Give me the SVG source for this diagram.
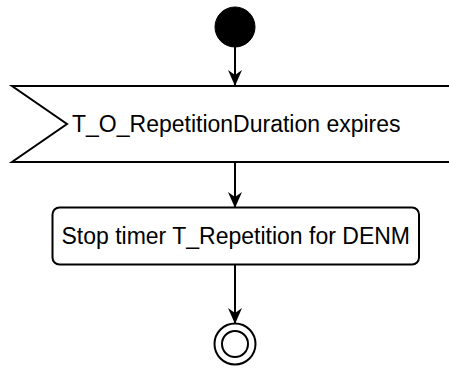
<svg xmlns="http://www.w3.org/2000/svg" width="449" height="368" viewBox="0 0 449 368">
  <defs>
    <marker id="arrow" viewBox="0 0 16 14" refX="15" refY="7" markerWidth="16" markerHeight="14" markerUnits="userSpaceOnUse" orient="auto">
      <path d="M0,0 L16,7 L0,14 L5,7 z" fill="#000"/>
    </marker>
  </defs>
  <style>
    .shape { fill: #fff; stroke: #000; stroke-width: 2; }
    .edge { fill: none; stroke: #000; stroke-width: 2; marker-end: url(#arrow); }
    .label { font-family: "Liberation Sans", Arial, Helvetica, sans-serif; font-size: 23px; fill: #000; }
  </style>
  <rect width="449" height="368" fill="#fff"/>
  <g id="connectors">
    <line class="edge" x1="235" y1="47" x2="235" y2="85"/>
    <line class="edge" x1="235" y1="162" x2="235" y2="207"/>
    <line class="edge" x1="235" y1="265" x2="235" y2="323"/>
  </g>
  <g id="start">
    <circle cx="235" cy="27" r="20" fill="#000" stroke="#000" stroke-width="1"/>
  </g>
  <g id="signal">
    <polygon class="shape" points="12,86 460,86 460,162 12,162 67,124"/>
    <text class="label" x="72" y="132">T_O_RepetitionDuration expires</text>
  </g>
  <g id="action">
    <rect class="shape" x="52.5" y="207.5" width="366.5" height="57" rx="7" ry="7"/>
    <text class="label" x="235.75" y="244" text-anchor="middle">Stop timer T_Repetition for DENM</text>
  </g>
  <g id="end">
    <circle cx="235" cy="344" r="20.5" fill="#fff" stroke="#000" stroke-width="2"/>
    <circle cx="235" cy="344" r="13" fill="#fff" stroke="#000" stroke-width="2"/>
  </g>
</svg>
